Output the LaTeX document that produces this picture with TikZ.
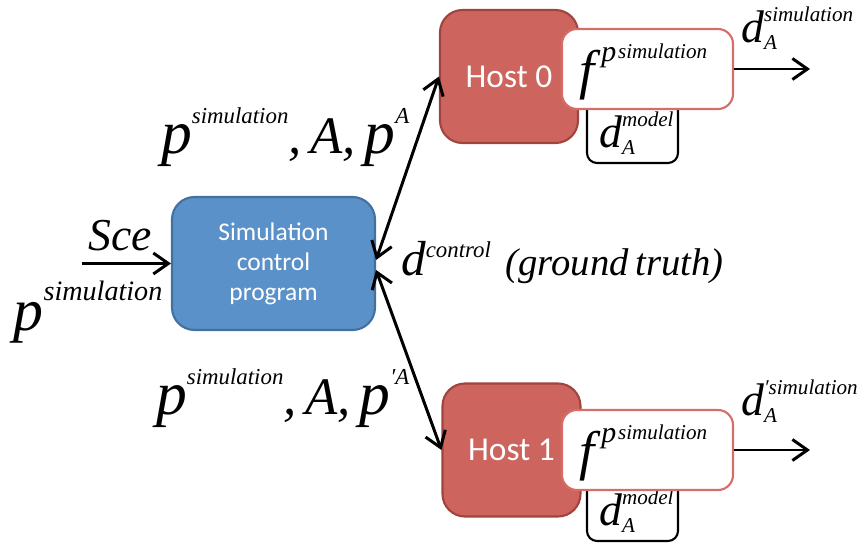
\documentclass[tikz,border=0pt]{standalone}
\usepackage{fontspec}
\setmainfont{Liberation Serif}
\newfontfamily\calib{Carlito}
\usetikzlibrary{arrows.meta}

\definecolor{ctrlblue}{RGB}{91,145,201}
\definecolor{ctrlline}{RGB}{66,113,160}
\definecolor{hostred}{RGB}{206,100,94}
\definecolor{hostline}{RGB}{160,68,64}
\definecolor{fline}{RGB}{214,110,104}

\newcommand{\eqfont}[1]{\fontsize{#1}{#1}\selectfont\itshape}
\newcommand{\eqsml}{\fontsize{13}{16}\selectfont\itshape}
\newcommand{\supr}[2][17pt]{\raisebox{#1}{\eqsml #2}}
\newcommand{\bigp}{{\eqfont{35}p}}
\newcommand{\supsub}[2]{\raisebox{-4.5pt}{\fontsize{12}{16}\selectfont\itshape\begin{tabular}[b]{@{}l@{}}#1\\#2\end{tabular}}}
\newcommand{\fsim}{\eqfont{31}f\kern4pt\raisebox{15pt}{\eqfont{17}p\kern1pt\raisebox{2pt}{\eqfont{12}simulation}}}

\begin{document}
\begin{tikzpicture}[
    ctrlbox/.style={draw=ctrlline, fill=ctrlblue, line width=1.2pt, rounded corners=4.5mm,
        minimum width=4.06cm, minimum height=2.66cm, text=white, align=center,
        font=\calib\fontsize{14.5}{17}\selectfont},
    hostbox/.style={draw=hostline, fill=hostred, line width=1.2pt, rounded corners=4.5mm,
        minimum width=2.76cm, minimum height=2.66cm, text=white,
        font=\calib\fontsize{19}{20}\selectfont},
    funbox/.style={draw=fline, fill=white, line width=1.2pt, rounded corners=3mm,
        minimum width=3.42cm, minimum height=1.6cm},
    modelbox/.style={draw=black, fill=white, line width=1.2pt, rounded corners=2mm,
        minimum width=1.82cm, minimum height=1.42cm},
    flow/.style={line width=1.7pt, -{Straight Barb[length=3mm,width=4.2mm]}},
    both/.style={flow, {Straight Barb[length=3mm,width=4.2mm]}-{Straight Barb[length=3mm,width=4.2mm]}},
]
    \useasboundingbox (0,0) rectangle (17.2,10.84);
    % control program
    \node[ctrlbox] (ctrl) at (5.47,5.57) {Simulation\\control\\program};
    % host 0
    \node[hostbox] (host0) at (10.18,9.31) {Host 0};
    \node[modelbox] (model0) at (12.65,8.29) {};
    \node[anchor=base west] (dmodel0) at (11.86,7.9) {\eqfont{26}d\supsub{model}{A}};
    \node[funbox] (f0) at (12.95,9.46) {};
    \node[anchor=base west] (fun0) at (11.46,9.08) {\fsim};
    % host 1
    \node[hostbox] (host1) at (10.23,1.84) {Host 1};
    \node[modelbox] (model1) at (12.65,0.73) {};
    \node[anchor=base west] (dmodel1) at (11.86,0.34) {\eqfont{26}d\supsub{model}{A}};
    \node[funbox] (f1) at (12.95,1.84) {};
    \node[anchor=base west] (fun1) at (11.46,1.46) {\fsim};
    % arrows
    \coordinate (scein) at (1.64,5.57);
    \coordinate (out0) at (16.2,9.46);
    \coordinate (out1) at (16.2,1.84);
    \draw[flow] (scein) -- (ctrl.west);
    \draw[both] ([yshift=0.07cm]ctrl.east) -- (host0.west);
    \draw[both] ([yshift=-0.13cm]ctrl.east) -- (host1.west);
    \draw[flow] (f0.east) -- (out0);
    \draw[flow] (f1.east) -- (out1);
    % labels
    \node[anchor=base] (sce) at (2.4,5.84) {\eqfont{26}Sce};
    \node[anchor=base west] (psim) at (0.15,4.24) {\eqfont{34}p\raisebox{17pt}{\eqfont{16}simulation}};
    \node[anchor=base west] (down0) at (3.1,7.78) {\eqfont{30}\bigp\supr{simulation},\,A,\,\bigp\supr{A}};
    \node[anchor=base west] (down1) at (3.0,2.55) {\eqfont{30}\bigp\supr{simulation},\,A,\,\bigp\supr{′A}};
    \node[anchor=base west] (dctrl) at (7.9,5.34) {\eqfont{28}d\supr[10pt]{control}\hspace{0.3em}\eqfont{22}(ground\,truth)};
    \node[anchor=base west] (dsim0) at (14.7,10.0) {\eqfont{26}d\supsub{simulation}{A}};
    \node[anchor=base west] (dsim1) at (14.7,2.54) {\eqfont{26}d\supsub{′simulation}{A}};
\end{tikzpicture}
\end{document}
